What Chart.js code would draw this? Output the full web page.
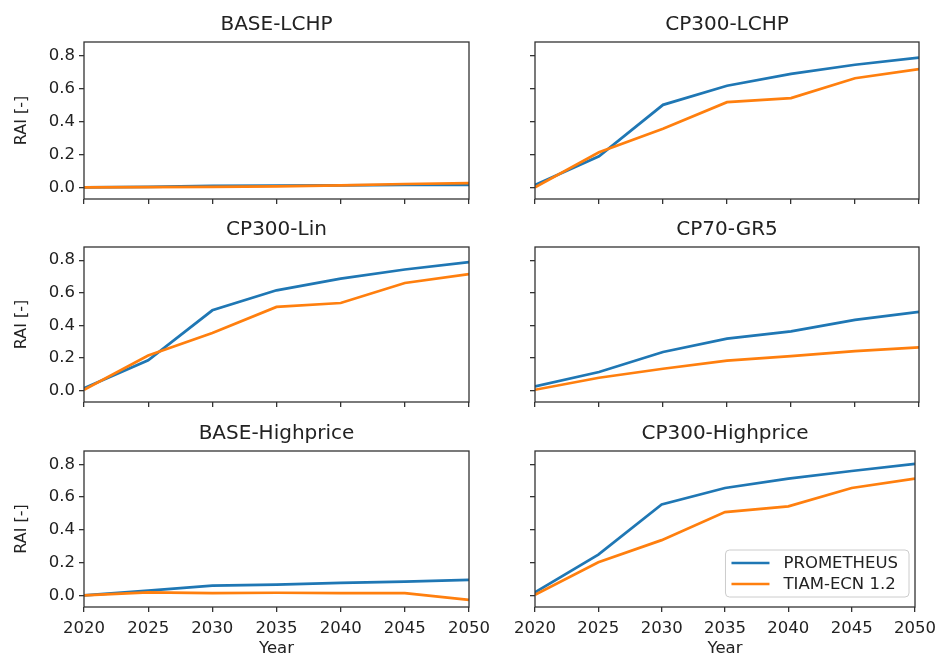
<!DOCTYPE html>
<html>
<head>
<meta charset="utf-8">
<title>RAI by scenario</title>
<script src="https://cdn.jsdelivr.net/npm/chart.js@4.4.1/dist/chart.umd.min.js"></script>
<style>
  html, body { margin: 0; padding: 0; background: #ffffff; overflow: hidden; }
  #fig { position: relative; width: 943px; height: 655px; }
  #fig canvas { position: absolute; left: 0; top: 0; }
</style>
</head>
<body>
<div id="fig"></div>
<script>
// ---- data -------------------------------------------------------------
const years = [2020, 2025, 2030, 2035, 2040, 2045, 2050];
const yTicks = [0.0, 0.2, 0.4, 0.6, 0.8];
const xTicks = [2020, 2025, 2030, 2035, 2040, 2045, 2050];
const yLimits = [-0.071, 0.881];

const seriesNames = ['PROMETHEUS', 'TIAM-ECN 1.2'];
const panelTitles = ['BASE-LCHP', 'CP300-LCHP', 'CP300-Lin', 'CP70-GR5', 'BASE-Highprice', 'CP300-Highprice'];

const promBaseLchp      = [0.000, 0.003, 0.008, 0.010, 0.012, 0.014, 0.015];
const tiamBaseLchp      = [0.000, 0.001, 0.003, 0.005, 0.012, 0.020, 0.025];
const promCp300Lchp     = [0.014, 0.188, 0.500, 0.616, 0.688, 0.743, 0.786];
const tiamCp300Lchp     = [0.000, 0.212, 0.355, 0.516, 0.541, 0.661, 0.716];
const promCp300Lin      = [0.014, 0.185, 0.492, 0.615, 0.687, 0.743, 0.788];
const tiamCp300Lin      = [0.004, 0.215, 0.353, 0.513, 0.537, 0.660, 0.714];
const promCp70Gr5       = [0.025, 0.113, 0.236, 0.318, 0.363, 0.433, 0.482];
const tiamCp70Gr5       = [0.004, 0.078, 0.133, 0.183, 0.211, 0.242, 0.265];
const promBaseHighprice = [0.000, 0.029, 0.059, 0.065, 0.076, 0.084, 0.094];
const tiamBaseHighprice = [0.000, 0.018, 0.014, 0.016, 0.014, 0.014, -0.027];
const promCp300High     = [0.018, 0.249, 0.555, 0.655, 0.712, 0.759, 0.802];
const tiamCp300High     = [0.004, 0.202, 0.337, 0.508, 0.543, 0.655, 0.712];

const panelSeries = [
  [promBaseLchp, tiamBaseLchp],
  [promCp300Lchp, tiamCp300Lchp],
  [promCp300Lin, tiamCp300Lin],
  [promCp70Gr5, tiamCp70Gr5],
  [promBaseHighprice, tiamBaseHighprice],
  [promCp300High, tiamCp300High]
];

// ---- layout & style ---------------------------------------------------
const FIG_W = 943, FIG_H = 655;
const colLeft = [84, 535], colRight = [469, 919];
const rowTop = [42, 247, 451], rowBottom = [199, 402, 607];
const colors = ['#1f77b4', '#ff7f0e'];
const FONT = 'DejaVu Sans';
const TEXT = '#222222';
const SPINE = '#333333';
const tickFont = { family: FONT, size: 16.5, lineHeight: 1.2 };

// frame, panel title and (optionally) legend drawn around the plot area
const panelDecor = {
  id: 'panelDecor',
  afterDraw(chart, args, opts) {
    const { ctx, chartArea: a } = chart;
    ctx.save();
    ctx.strokeStyle = SPINE;
    ctx.lineWidth = 1.3;
    ctx.strokeRect(a.left, a.top, a.right - a.left, a.bottom - a.top);

    ctx.fillStyle = TEXT;
    ctx.font = '20px "' + FONT + '"';
    ctx.textAlign = 'center';
    ctx.textBaseline = 'middle';
    ctx.fillText(opts.title, (a.left + a.right) / 2, a.top - 17);

    if (opts.legend) {
      ctx.font = '16.5px "' + FONT + '"';
      const ds = chart.data.datasets;
      const sampleLen = 38, gap = 14, padL = 6, padR = 11, rowH = 21, padV = 13;
      let textW = 0;
      ds.forEach(d => { textW = Math.max(textW, ctx.measureText(d.label).width); });
      const boxW = padL + sampleLen + gap + textW + padR;
      const boxH = padV * 2 + rowH * (ds.length - 1);
      const bx = a.right - 6 - boxW;
      const by = a.bottom - 10 - boxH;
      ctx.beginPath();
      ctx.roundRect(bx, by, boxW, boxH, 4);
      ctx.fillStyle = 'rgba(255,255,255,0.85)';
      ctx.fill();
      ctx.strokeStyle = '#cccccc';
      ctx.lineWidth = 1;
      ctx.stroke();
      ds.forEach((d, k) => {
        const cy = by + padV + k * rowH;
        ctx.strokeStyle = d.borderColor;
        ctx.lineWidth = 2.7;
        ctx.beginPath();
        ctx.moveTo(bx + padL, cy);
        ctx.lineTo(bx + padL + sampleLen, cy);
        ctx.stroke();
        ctx.fillStyle = TEXT;
        ctx.textAlign = 'left';
        ctx.textBaseline = 'middle';
        ctx.fillText(d.label, bx + padL + sampleLen + gap, cy + 1);
      });
    }
    ctx.restore();
  }
};

function makePanel(i) {
  const col = i % 2, row = Math.floor(i / 2);
  const left = colLeft[col], right = colRight[col];
  const top = rowTop[row], bottom = rowBottom[row];
  const isBottomRow = row === 2;
  const isLeftCol = col === 0;

  const yAxisW = isLeftCol ? left : 30;
  const xAxisH = isBottomRow ? FIG_H - bottom : 6;

  const canvas = document.createElement('canvas');
  canvas.width = FIG_W;
  canvas.height = FIG_H;
  document.getElementById('fig').appendChild(canvas);

  const datasets = panelSeries[i].map((vals, k) => ({
    label: seriesNames[k],
    data: years.map((yr, j) => ({ x: yr, y: vals[j] })),
    borderColor: colors[k],
    backgroundColor: colors[k],
    borderWidth: 2.7,
    pointRadius: 0,
    tension: 0,
    fill: false,
    order: seriesNames.length - k
  }));

  const axisGrid = {
    display: true,
    drawOnChartArea: false,
    drawTicks: true,
    tickLength: 5,
    color: SPINE,
    lineWidth: 1.3
  };

  return new Chart(canvas, {
    type: 'line',
    data: { datasets },
    plugins: [panelDecor],
    options: {
      responsive: false,
      animation: false,
      events: [],
      layout: {
        padding: {
          left: left - yAxisW,
          right: FIG_W - right,
          top: top,
          bottom: FIG_H - bottom - xAxisH
        }
      },
      scales: {
        x: {
          type: 'linear',
          min: xTicks[0],
          max: xTicks[xTicks.length - 1],
          grid: axisGrid,
          border: { display: false },
          afterBuildTicks: s => { s.ticks = xTicks.map(v => ({ value: v })); },
          afterFit: s => { s.height = xAxisH; },
          ticks: {
            autoSkip: false,
            maxRotation: 0,
            padding: 7,
            color: TEXT,
            font: tickFont,
            callback: v => (isBottomRow ? String(v) : '')
          },
          title: {
            display: isBottomRow,
            text: 'Year',
            color: TEXT,
            font: { family: FONT, size: 16.5, lineHeight: 0.75 },
            padding: { top: 0, bottom: 0 }
          }
        },
        y: {
          type: 'linear',
          min: yLimits[0],
          max: yLimits[1],
          grid: axisGrid,
          border: { display: false },
          afterBuildTicks: s => { s.ticks = yTicks.map(v => ({ value: v })); },
          afterFit: s => { s.width = yAxisW; },
          ticks: {
            padding: 4,
            color: TEXT,
            font: tickFont,
            callback: v => (isLeftCol ? v.toFixed(1) : '')
          },
          title: {
            display: isLeftCol,
            text: 'RAI [-]',
            color: TEXT,
            font: { family: FONT, size: 16, lineHeight: 1.2 },
            padding: { top: 12, bottom: 0 }
          }
        }
      },
      plugins: {
        legend: { display: false },
        tooltip: { enabled: false },
        title: { display: false },
        panelDecor: { title: panelTitles[i], legend: i === 5 }
      }
    }
  });
}

panelTitles.forEach((_, i) => makePanel(i));
</script>
</body>
</html>
